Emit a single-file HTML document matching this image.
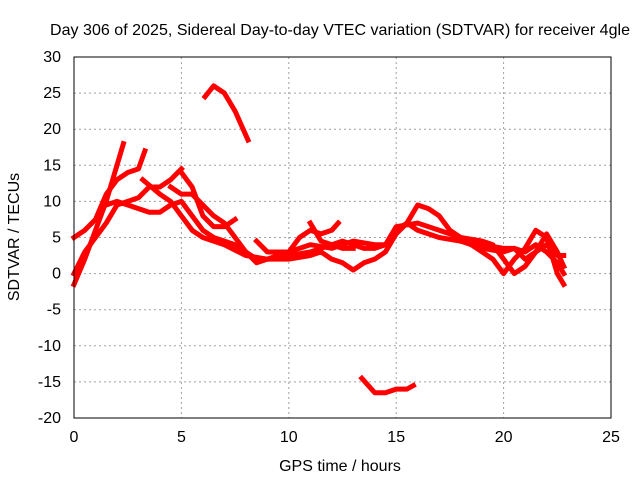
<!DOCTYPE html>
<html><head><meta charset="utf-8"><style>
body{margin:0;background:#fff}
svg{display:block;font-family:"Liberation Sans",sans-serif;font-size:13px}
.big{font-size:16px}
</style></head><body>
<svg id="c" width="640" height="480">
<rect width="640" height="480" fill="#fff"/>
<text class="big" x="340" y="35" text-anchor="middle" textLength="580">Day 306 of 2025, Sidereal Day-to-day VTEC variation (SDTVAR) for receiver 4gle</text>
<text class="big" x="340" y="471" text-anchor="middle">GPS time / hours</text>
<text class="big" transform="translate(19,237) rotate(-90)" text-anchor="middle">SDTVAR / TECUs</text>
<g id="grid"></g><g id="series"></g>
<rect x="74" y="57" width="537" height="361" fill="none" stroke="#000" stroke-width="1"/>
<g id="ticks"></g>
</svg>
<script>
const xTicks=[0,5,10,15,20,25];
const yTicks=[30,25,20,15,10,5,0,-5,-10,-15,-20];
const s1=[[6.1,24.5],[6.5,26],[7,25],[7.5,22.5],[8.1,18.5]];
const s2=[[13.4,-14.5],[14,-16.5],[14.5,-16.5],[15,-16],[15.5,-16],[15.8,-15.5]];
const s3=[[0,5],[0.5,6],[1,7.5],[1.5,11],[2,13],[2.5,14],[3,14.5],[3.3,17]];
const s4=[[0,-1.5],[0.5,2],[1,6],[1.5,10],[2,15],[2.3,18]];
const s5=[[0,0],[0.5,3],[1,5],[1.5,7],[2,9.5],[2.5,10],[3,10.5],[3.5,12],[4,12],[4.5,13],[5,14.5]];
const s6=[[1.5,9.5],[2,10],[3,9],[3.5,8.5],[4,8.5],[4.5,9.5],[5,10],[5.5,8],[6,6],[6.5,5],[7,4.5],[7.5,4],[8,3],[8.5,2],[9,2],[10,2.5],[11,3],[12,4],[12.5,4.5],[13,4],[13.5,3.5],[14,3.5],[14.5,4],[15,6],[15.5,7],[16,6],[17,5],[18,4.5],[19,4],[20,3.5],[20.5,3.5],[21,2],[21.5,3],[22,4],[22.5,2.5],[22.8,2.5]];
const s7=[[3.2,13],[4,11],[4.5,10],[5,8],[5.5,6],[6,5],[7,4],[8,2.5],[9,2],[10,2],[11,2.5],[11.5,3],[12,2],[12.5,1.5],[13,0.5],[13.5,1.5],[14,2],[14.5,3],[15,5.5],[15.5,7],[16,9.5],[16.5,9],[17,8],[17.5,6],[18,5],[19,4.5],[19.5,4],[20,2],[20.5,0],[21,1],[21.5,3],[22,5.5],[22.5,3],[22.8,1]];
const s8=[[4.5,12],[5,11],[5.5,11],[6,9.5],[6.5,8],[7,7],[7.5,5],[8,3],[8.5,1.5],[9,2],[10,3],[10.5,5],[11,6],[11.5,5.5],[12,6],[12.3,7]];
const s9=[[5,14],[5.5,12],[6,8],[6.5,6.5],[7,6.5],[7.5,7.5]];
const s10=[[8.5,4.5],[9,3],[10,3],[11,4],[12,3.5],[12.5,4],[13,4.5],[14,4],[14.5,4],[15,6.5],[16,7],[17,6],[18,5],[19,3],[19.5,2],[20,0],[20.5,2],[21,3.5],[21.5,6],[22,5],[22.5,0],[22.8,-1.5]];
const s11=[[11,7],[11.5,4.5],[12,4],[12.5,3.5],[13,3.5]];
const s12=[[18,4.5],[19,3.5],[20,3],[20.5,3.5],[21,3],[21.5,4],[22,3],[22.5,1.5],[22.8,0]];
const allSeries=[s1,s2,s3,s4,s5,s6,s7,s8,s9,s10,s11,s12];
const X=v=>74+v*(537/25), Y=v=>57+(30-v)*(361/50);
const NS="http://www.w3.org/2000/svg";
const grid=document.getElementById('grid'),ticks=document.getElementById('ticks'),ser=document.getElementById('series');
function mk(tag,a,p){const e=document.createElementNS(NS,tag);for(const k in a)e.setAttribute(k,a[k]);p.appendChild(e);return e;}
xTicks.forEach(t=>{
  const x=X(t);
  if(t>0&&t<25){const g=mk('line',{x1:x,x2:x,y1:57,y2:418,stroke:'#a0a0a0','stroke-dasharray':'2,3'},grid);
  
  }
  const l=mk('text',{x:x,y:442,'text-anchor':'middle',class:'big'},ticks);l.textContent=t;
  
  
});
yTicks.forEach(t=>{
  const y=Y(t);
  if(t<30&&t>-20){const g=mk('line',{x1:74,x2:611,y1:y,y2:y,stroke:'#a0a0a0','stroke-dasharray':'2,3'},grid);
  
  }
  const l=mk('text',{x:61,y:y+5,'text-anchor':'end',class:'big'},ticks);l.textContent=t;
  
  
});
allSeries.forEach((s,i)=>{
  const p=mk('polyline',{points:s.map(d=>X(d[0])+','+Y(d[1])).join(' '),fill:'none',stroke:'#ff0000','stroke-width':5,'stroke-linejoin':'round','stroke-linecap':'square'},ser);
  
  
});
</script>
</body></html>
